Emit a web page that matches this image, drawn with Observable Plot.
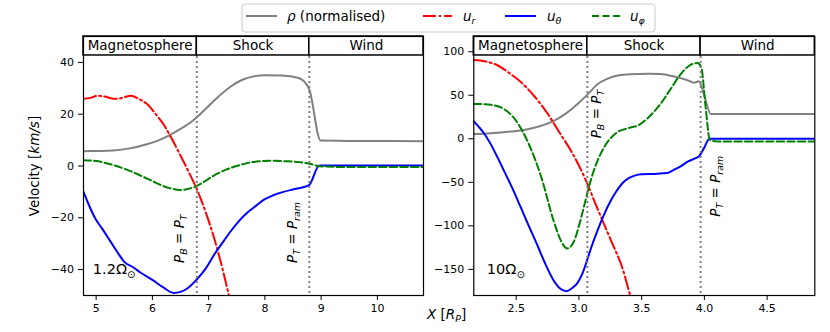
<!DOCTYPE html>
<html><head><meta charset="utf-8">
<script src="https://cdn.jsdelivr.net/npm/d3@7"></script>
<script src="https://cdn.jsdelivr.net/npm/@observablehq/plot@0.6"></script>
<style>
body{margin:0;background:#fff;}
#wrap{position:relative;width:830px;height:332px;font-family:"DejaVu Sans";background:#fff;}
#wrap svg{position:absolute;top:0;}
</style></head><body><div id="wrap"></div>
<script>
// ---------- DATA ----------
const regionNames = ["Magnetosphere", "Shock", "Wind"];
const seriesNames = ["ρ (normalised)", "u_r", "u_θ", "u_φ"];

// Left panel (1.2 Ω☉)
const leftLabel = "1.2Ω";
const leftBounds = [6.79, 8.79];
const leftXTicks = [5, 6, 7, 8, 9, 10];
const leftYTicks = [-40, -20, 0, 20, 40];
const leftRho = [[4.775,5.7],[5.0,5.8],[5.3,6.0],[5.6,6.8],[5.9,8.4],[6.1,9.8],[6.3,11.8],[6.5,14.3],[6.7,17.2],[6.8,19.0],[7.0,23.2],[7.2,27.3],[7.4,30.8],[7.6,33.3],[7.8,34.6],[8.0,35.0],[8.3,34.9],[8.6,34.0],[8.68,33.0],[8.74,31.5],[8.79,29.5],[8.99,9.8],[9.5,9.7],[10.82,9.6]];
const leftUr = [[4.775,26.0],[4.9,26.3],[5.02,27.1],[5.15,26.8],[5.3,26.0],[5.4,26.0],[5.5,26.6],[5.62,27.1],[5.75,26.0],[5.9,24.0],[6.05,20.3],[6.2,16.0],[6.35,10.3],[6.5,4.0],[6.65,-2.5],[6.8,-9.5],[6.95,-18],[7.1,-28],[7.25,-40],[7.36,-50],[7.45,-58]];
const leftUth = [[4.775,-10],[4.85,-14],[4.99,-20.5],[5.1,-24],[5.25,-29],[5.4,-34],[5.5,-37],[5.65,-39],[5.8,-41.3],[6.0,-44],[6.2,-47],[6.38,-49],[6.5,-48.6],[6.62,-47.3],[6.79,-43.8],[6.95,-39.5],[7.1,-34.2],[7.25,-29.5],[7.4,-25],[7.55,-21],[7.7,-17.8],[7.85,-15.2],[8.0,-12.8],[8.15,-11.3],[8.33,-10],[8.55,-8.8],[8.78,-7.5],[8.97,0.2],[9.5,0.2],[10.82,0.2]];
const leftUphi = [[4.775,2.2],[5.0,1.9],[5.2,1.0],[5.4,-0.3],[5.6,-1.9],[5.8,-3.8],[6.0,-5.8],[6.2,-7.8],[6.4,-9.0],[6.5,-9.3],[6.6,-9.0],[6.75,-8.1],[6.9,-6.3],[7.1,-3.6],[7.3,-1.5],[7.5,0.0],[7.7,1.2],[7.9,1.8],[8.1,2.0],[8.4,1.8],[8.6,1.5],[8.79,0.9],[8.97,-0.1],[9.5,-0.4],[10.82,-0.4]];
const leftNotes = [
  {x: 6.57, y: -37.6, parts: [["P","i"],["B","s"],[" = ","n"],["P","i"],["T","s"]]},
  {x: 8.58, y: -37.6, parts: [["P","i"],["T","s"],[" = ","n"],["P","i"],["ram","s"]]}
];
const leftOmega = {x: 4.95, y: -41.9};

// Right panel (10 Ω☉)
const rightLabel = "10Ω";
const rightBounds = [3.067, 3.97];
const rightXTicks = [2.5, 3.0, 3.5, 4.0, 4.5];
const rightYTicks = [-150, -100, -50, 0, 50, 100];
const rightRho = [[2.162,5.5],[2.3,6.5],[2.4,7.6],[2.5,9.0],[2.6,11.2],[2.7,15.0],[2.8,20.5],[2.9,29.5],[3.0,41.5],[3.07,51],[3.15,63],[3.22,68.5],[3.3,72.5],[3.4,74.0],[3.55,74.8],[3.65,74.5],[3.76,71.5],[3.86,67.5],[3.92,64.5],[3.955,66.0],[3.995,52],[4.05,28.6],[4.88,28.5]];
const rightUr = [[2.162,90.5],[2.25,89],[2.35,84.5],[2.45,75],[2.55,63.5],[2.65,48],[2.75,29],[2.85,6],[2.95,-17],[3.05,-46],[3.15,-81],[3.25,-115],[3.35,-150],[3.41,-180],[3.45,-195]];
const rightUth = [[2.162,20],[2.2,14],[2.25,5],[2.3,-7],[2.35,-21],[2.4,-36],[2.47,-57],[2.534,-78],[2.6,-100],[2.668,-122],[2.73,-143],[2.8,-163],[2.85,-172],[2.9,-175],[2.95,-171],[2.986,-166],[3.03,-154],[3.066,-139],[3.1,-124],[3.146,-106],[3.2,-87],[3.25,-72],[3.3,-60],[3.35,-50.5],[3.4,-45],[3.45,-42],[3.5,-40.8],[3.6,-40.3],[3.704,-39.4],[3.76,-35.5],[3.81,-31.7],[3.87,-26],[3.916,-23],[3.956,-20.3],[3.996,-11],[4.04,0],[4.88,0]];
const rightUphi = [[2.162,40],[2.25,39.8],[2.3,39],[2.4,34.4],[2.5,20.5],[2.6,-6],[2.7,-44],[2.8,-95],[2.86,-118],[2.907,-126],[2.96,-118],[3.0,-100],[3.04,-78],[3.08,-55],[3.12,-36],[3.2,-10],[3.3,7],[3.4,12.5],[3.48,16],[3.55,24],[3.65,40],[3.73,57],[3.81,74],[3.89,85],[3.945,87],[3.975,82],[4.01,36],[4.044,-1.5],[4.1,-3],[4.88,-3]];
const rightNotes = [
  {x: 3.176, y: 0, parts: [["P","i"],["B","s"],[" = ","n"],["P","i"],["T","s"]]},
  {x: 4.129, y: -90, parts: [["P","i"],["T","s"],[" = ","n"],["P","i"],["ram","s"]]}
];
const rightOmega = {x: 2.27, y: -155.4};

// ---------- DRAWING ----------
const FS = 13.5;
const colors = ["#808080", "#ff0000", "#0000ff", "#008000"];
const dashes = [null, "12.8,3.2,2,3.2", null, "7.4,3.2"];
const HEADER_FRAC = 19 / 259.3;

function mathText(sel, parts, fs) {
  let shift = 0;
  const subShift = fs * 0.25;
  for (const [t, k] of parts) {
    const sub = k === "s";
    const target = sub ? subShift : 0;
    const ts = sel.append("tspan").text(t)
      .attr("font-size", sub ? fs * 0.7 : fs)
      .attr("font-style", (k === "i" || k === "s") ? "italic" : "normal");
    if (target - shift !== 0) ts.attr("dy", target - shift);
    shift = target;
  }
  return sel;
}

function panel(o) {
  const [y0, y1] = o.yDomain;
  const hTop = y1, hBot = y1 - HEADER_FRAC * (y1 - y0);
  const edges = [o.xDomain[0], ...o.bounds, o.xDomain[1]];
  const regions = regionNames.map((name, i) => ({name, x1: edges[i], x2: edges[i + 1]}));
  const series = [o.rho, o.ur, o.uth, o.uphi];
  const p = Plot.plot({
    width: o.width, height: 332,
    marginLeft: o.ml, marginRight: o.mr, marginTop: 36, marginBottom: 37,
    style: {fontFamily: "DejaVu Sans", fontSize: "11px", color: "black", background: "transparent", overflow: "visible"},
    x: {domain: o.xDomain, ticks: o.xTicks, tickFormat: o.xFmt, tickSize: 5, tickPadding: 4, label: null},
    y: {domain: o.yDomain, ticks: o.yTicks, tickFormat: d3.format("d"), tickSize: 5, tickPadding: 4.5, label: null},
    marks: [
      ...series.map((s, i) => Plot.line(s, {
        x: d => d[0], y: d => d[1], stroke: colors[i], strokeWidth: 2,
        strokeDasharray: dashes[i] || undefined, curve: "monotone-x", clip: true
      })),
      Plot.ruleX(o.bounds, {stroke: "#808080", strokeWidth: 2, strokeDasharray: "2,3"}),
      Plot.rect(regions, {x1: "x1", x2: "x2", y1: () => hBot, y2: () => hTop, fill: "white", stroke: "black", strokeWidth: 1.5}),
      Plot.text(regions, {x: d => (d.x1 + d.x2) / 2, y: () => (hTop + hBot) / 2, text: "name", fontSize: FS, fill: "black"}),
      Plot.frame({stroke: "black", strokeWidth: 1.2})
    ]
  });
  const sx = p.scale("x"), sy = p.scale("y");
  const svg = d3.select(p);
  for (const n of o.notes) {
    const t = svg.append("text")
      .attr("transform", `translate(${sx.apply(n.x)},${sy.apply(n.y)}) rotate(-90)`)
      .attr("text-anchor", "start").attr("fill", "black").attr("font-family", "DejaVu Sans");
    mathText(t, n.parts, FS);
  }
  const om = svg.append("text")
    .attr("x", sx.apply(o.omega.x)).attr("y", sy.apply(o.omega.y))
    .attr("text-anchor", "start")
    .attr("fill", "black").attr("font-family", "DejaVu Sans");
  om.append("tspan").text(o.label).attr("font-size", 14.5);
  om.append("tspan").text("⊙").attr("font-size", 10).attr("dy", 4);
  return p;
}

const wrap = document.getElementById("wrap");
const left = panel({
  width: 430, ml: 83, mr: 7, xDomain: [4.775, 10.82], yDomain: [-50, 50],
  xTicks: leftXTicks, yTicks: leftYTicks, xFmt: d3.format("d"), bounds: leftBounds,
  rho: leftRho, ur: leftUr, uth: leftUth, uphi: leftUphi, notes: leftNotes, omega: leftOmega, label: leftLabel
});
left.style.left = "0px";
wrap.appendChild(left);
const right = panel({
  width: 400, ml: 43.3, mr: 15.7, xDomain: [2.162, 4.88], yDomain: [-180, 117.5],
  xTicks: rightXTicks, yTicks: rightYTicks, xFmt: d3.format(".1f"), bounds: rightBounds,
  rho: rightRho, ur: rightUr, uth: rightUth, uphi: rightUphi, notes: rightNotes, omega: rightOmega, label: rightLabel
});
right.style.left = "430px";
wrap.appendChild(right);

// Overlay: legend and axis titles
const ov = d3.select(wrap).append("svg").attr("width", 830).attr("height", 332)
  .style("left", "0px").style("pointer-events", "none").attr("font-family", "DejaVu Sans");
ov.append("rect").attr("x", 242).attr("y", 4).attr("width", 413).attr("height", 28)
  .attr("rx", 3).attr("fill", "white").attr("fill-opacity", 0.8).attr("stroke", "#cccccc");
const legItems = [
  {x0: 246, x1: 277, tx: 287, parts: [["ρ","i"],[" (normalised)","n"]]},
  {x0: 423, x1: 452, tx: 463, parts: [["u","i"],["r","s"]]},
  {x0: 505, x1: 536, tx: 547, parts: [["u","i"],["θ","s"]]},
  {x0: 592, x1: 621, tx: 630, parts: [["u","i"],["φ","s"]]}
];
legItems.forEach((it, i) => {
  ov.append("line").attr("x1", it.x0).attr("x2", it.x1).attr("y1", 16).attr("y2", 16)
    .attr("stroke", colors[i]).attr("stroke-width", 2).attr("stroke-dasharray", dashes[i] ? (i === 1 ? "12.8,3.2,2,3.2" : "7,3.5") : null);
  const t = ov.append("text").attr("x", it.tx).attr("y", 20.5).attr("fill", "black");
  mathText(t, it.parts, FS);
});
const yl = ov.append("text").attr("transform", "translate(38.5,166) rotate(-90)")
  .attr("text-anchor", "middle").attr("fill", "black");
mathText(yl, [["Velocity [","n"],["km/s","i"],["]","n"]], FS);
const xl = ov.append("text").attr("x", 427).attr("y", 319).attr("fill", "black");
mathText(xl, [["X","i"],[" [","n"],["R","i"],["P","s"],["]","n"]], FS);
</script></body></html>
